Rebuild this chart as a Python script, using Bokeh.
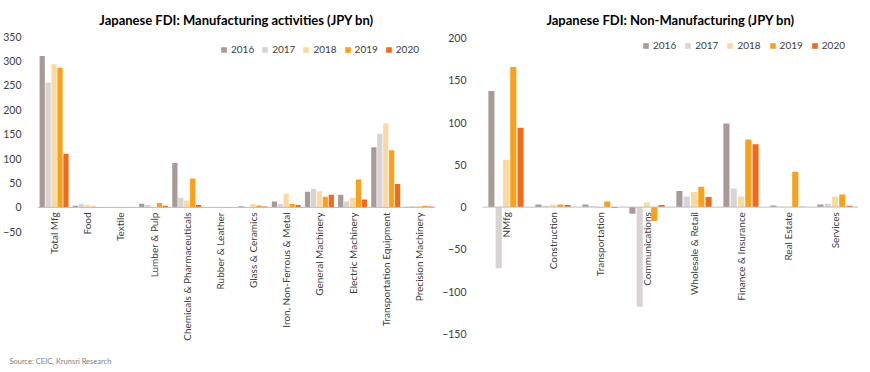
import math
from bokeh.plotting import figure
from bokeh.layouts import row
from bokeh.models import ColumnDataSource, Range1d, FixedTicker, Span, Title, Legend, LegendItem
from bokeh.transform import dodge
from bokeh.core.properties import value
from bokeh.embed import file_html
from bokeh.resources import INLINE

years = ["2016", "2017", "2018", "2019", "2020"]
colors = ["#A79A99", "#DAD3D3", "#FCD9A2", "#F9A11B", "#EF6B1E"]

mfg_cats = ["Total Mfg", "Food", "Textile", "Lumber & Pulp", "Chemicals & Pharmaceuticals",
            "Rubber & Leather", "Glass & Ceramics", "Iron, Non-Ferrous & Metal",
            "General Machinery", "Electric Machinery", "Transportation Equipment",
            "Precision Machinery"]
mfg_2016 = [310, 3.4, 1, 7.5, 91, 0.3, 2.5, 12, 32, 26, 123, 1.5]
mfg_2017 = [256, 7.5, 1, 5, 20, 0.5, 0.5, 7, 38, 12, 151, 3]
mfg_2018 = [293, 5.5, 1, 0.5, 14, 1, 7, 28, 33, 20, 172, 3]
mfg_2019 = [286, 2, 1, 9, 59, 1, 4, 7, 22, 57, 117, 3.5]
mfg_2020 = [110, 1, 0.5, 3.5, 5, 1, 2, 5, 26, 16, 48, 2]
mfg_ticks = [-50, 0, 50, 100, 150, 200, 250, 300, 350]

nmfg_cats = ["NMfg", "Construction", "Transportation", "Communications",
             "Wholesale & Retail", "Finance & Insurance", "Real Estate", "Services"]
nmfg_2016 = [137.6, 3, 3, -8, 19, 99, 2, 3]
nmfg_2017 = [-72.5, 1.5, 1, -118, 12.5, 22, 0.5, 4]
nmfg_2018 = [56, 3, -1, 5.5, 18, 12.5, 0.3, 12.5]
nmfg_2019 = [166, 3, 6.7, -16.5, 24, 80, 42, 15]
nmfg_2020 = [94, 2.5, -1, 2.5, 12, 74.5, 0.5, 1.5]
nmfg_ticks = [-150, -100, -50, 0, 50, 100, 150, 200]

FONT = "Lato"
TXT = "#404040"
H = 370
FB = 352  # frame bottom (px)


def make_chart(title, cats, series, ticks, yr, width, border_left, border_right, pitch, bw,
               title_offset, legend_loc, legend_spacing, source_text=None):
    data = {"cat": cats}
    for y, s in zip(years, series):
        data["y" + y] = s
    data["zero"] = [0] * len(cats)
    src = ColumnDataSource(data)
    p = figure(x_range=cats, y_range=Range1d(*yr), width=width, height=H,
               output_backend="svg", toolbar_location=None,
               min_border_left=border_left, min_border_right=border_right,
               min_border_top=36, min_border_bottom=H - FB)
    p.outline_line_color = None
    p.xgrid.visible = False
    p.ygrid.visible = False
    p.xaxis.visible = False
    p.background_fill_color = None
    p.border_fill_color = "white"

    yax = p.yaxis[0]
    yax.ticker = FixedTicker(ticks=ticks)
    yax.axis_line_color = None
    yax.major_tick_line_color = None
    yax.minor_tick_line_color = None
    yax.major_label_text_font = FONT
    yax.major_label_text_font_size = "10.5px"
    yax.major_label_text_color = TXT
    yax.major_label_standoff = 10

    p.add_layout(Span(location=0, dimension="width", line_color="#BFBFBF", line_width=1))

    n = len(years)
    items = []
    for i, (y, c) in enumerate(zip(years, colors)):
        off = (i - (n - 1) / 2) * pitch
        r = p.vbar(x=dodge("cat", off, range=p.x_range), top="y" + y, bottom=0,
                   width=bw, source=src, fill_color=c, line_color=None)
        items.append(LegendItem(label=y, renderers=[r]))

    p.text(x="cat", y="zero", text="cat", source=src, angle=math.pi / 2,
           text_align="right", text_baseline="middle", y_offset=5,
           text_font=value(FONT), text_font_size="10px", text_color=TXT)

    leg = Legend(items=items, orientation="horizontal", location=legend_loc,
                 glyph_width=7, glyph_height=7, label_standoff=4, spacing=legend_spacing,
                 padding=0, margin=0, border_line_color=None,
                 background_fill_alpha=0, label_text_font=FONT,
                 label_text_font_size="10px", label_text_color=TXT,
                 label_height=10)
    p.add_layout(leg)

    spacer = Title(text=" ", align="center", text_font=FONT, text_font_size="6px",
                   standoff=0)
    p.add_layout(spacer, "above")
    t = Title(text=title, align="center", text_font=FONT, text_font_style="bold",
              text_font_size="13px", text_color="#000000", offset=title_offset,
              standoff=0)
    p.add_layout(t, "above")
    if source_text:
        s = Title(text=source_text, align="left", text_font=FONT, text_font_style="normal",
                  text_font_size="7.5px", text_color="#7F7F7F", offset=-border_left + 5,
                  standoff=9)
        p.add_layout(s, "below")
    return p


p1 = make_chart("Japanese FDI: Manufacturing activities (JPY bn)", mfg_cats,
                [mfg_2016, mfg_2017, mfg_2018, mfg_2019, mfg_2020], mfg_ticks,
                (-(FB - 208) / 0.4914, 350), 438, 33, 3, 0.179, 0.158, 0,
                (183, FB - 36 - 21), 7,
                source_text="Source: CEIC, Krunsri Research")
p2 = make_chart("Japanese FDI: Non-Manufacturing (JPY bn)", nmfg_cats,
                [nmfg_2016, nmfg_2017, nmfg_2018, nmfg_2019, nmfg_2020], nmfg_ticks,
                (-(FB - 207.7) / 0.85, 202), 428, 44, 8, 0.155, 0.13, -8,
                (160, FB - 36 - 17), 8)

layout = row(p1, p2, spacing=0)
open("out.html", "w").write(file_html(layout, INLINE))
